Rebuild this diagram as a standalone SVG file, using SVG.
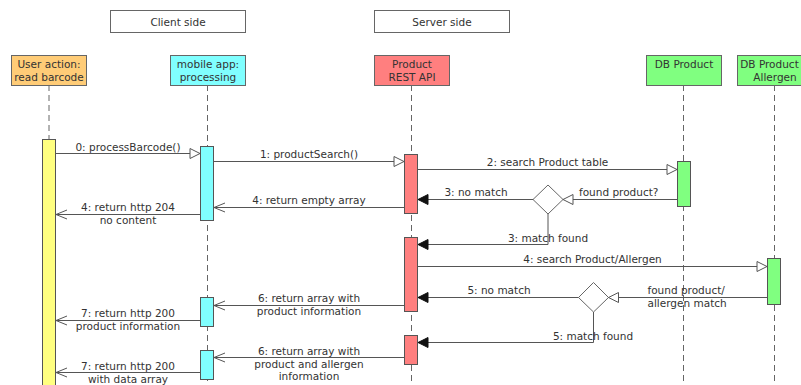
<svg xmlns="http://www.w3.org/2000/svg" width="801" height="385" viewBox="0 0 801 385">
<defs>
<style>
text{font-family:"DejaVu Sans","Liberation Sans",sans-serif;font-size:10.5px;fill:#333}
.m{text-anchor:middle}
.box{stroke:#666;stroke-width:1}
.life{stroke:#666;stroke-width:1;stroke-dasharray:6,4;fill:none}
.act{stroke:#555;stroke-width:1}
.msg{stroke:#555;stroke-width:1;fill:none}
.dec{fill:#fff;stroke:#666;stroke-width:1}
</style>
<marker id="open" markerUnits="userSpaceOnUse" markerWidth="12" markerHeight="12" refX="10" refY="5" orient="auto" overflow="visible"><path d="M0,0 L10,5 L0,10 Z" fill="#fff" stroke="#555"/></marker>
<marker id="fill" markerUnits="userSpaceOnUse" markerWidth="12" markerHeight="12" refX="10" refY="5" orient="auto" overflow="visible"><path d="M0,0 L10,5 L0,10 Z" fill="#111" stroke="#111"/></marker>
<marker id="vee" markerUnits="userSpaceOnUse" markerWidth="12" markerHeight="12" refX="11" refY="4.5" orient="auto" overflow="visible"><path d="M0,0 L11,4.5 L0,9" fill="none" stroke="#555"/></marker>
</defs>
<rect width="801" height="385" fill="#fff"/>

<g id="header-client"><rect x="110.5" y="10.5" width="135" height="22" fill="#fff" class="box"/><text x="178" y="25.5" class="m">Client side</text></g>
<g id="header-server"><rect x="374.5" y="10.5" width="135" height="22" fill="#fff" class="box"/><text x="442" y="25.5" class="m">Server side</text></g>

<g id="lifelines">
<line x1="49" y1="85" x2="49" y2="385" class="life"/>
<line x1="207.5" y1="85" x2="207.5" y2="385" class="life"/>
<line x1="411.5" y1="85" x2="411.5" y2="385" class="life"/>
<line x1="683.5" y1="85" x2="683.5" y2="385" class="life"/>
<line x1="774.5" y1="85" x2="774.5" y2="385" class="life"/>
</g>

<g id="user"><rect x="11.5" y="55.5" width="75" height="30" fill="#FFCC77" class="box"/><text x="49" y="67.5" class="m">User action:</text><text x="49" y="81" class="m">read barcode</text></g>
<g id="mobile"><rect x="170.5" y="55.5" width="75" height="30" fill="#80FFFF" class="box"/><text x="208" y="67.5" class="m">mobile app:</text><text x="208" y="81" class="m">processing</text></g>
<g id="api"><rect x="374.5" y="55.5" width="75" height="30" fill="#FF7F7F" class="box"/><text x="412" y="67.5" class="m">Product</text><text x="412" y="81" class="m">REST API</text></g>
<g id="dbproduct"><rect x="646.5" y="55.5" width="75" height="30" fill="#80FF80" class="box"/><text x="684" y="67.5" class="m">DB Product</text></g>
<g id="dballergen"><rect x="737.5" y="55.5" width="75" height="30" fill="#80FF80" class="box"/><text x="769.5" y="67.5" class="m">DB Product</text><text x="775" y="81" class="m">Allergen</text></g>

<g id="activations">
<rect x="42.5" y="139.5" width="13" height="250" fill="#FFFF80" class="act"/>
<rect x="200.5" y="146.5" width="13" height="74" fill="#80FFFF" class="act"/>
<rect x="200.5" y="297.5" width="13" height="29" fill="#80FFFF" class="act"/>
<rect x="200.5" y="350.5" width="13" height="29" fill="#80FFFF" class="act"/>
<rect x="404.5" y="154.5" width="13" height="59" fill="#FF7F7F" class="act"/>
<rect x="404.5" y="237.5" width="13" height="74" fill="#FF7F7F" class="act"/>
<rect x="404.5" y="335.5" width="13" height="29" fill="#FF7F7F" class="act"/>
<rect x="677.5" y="161.5" width="13" height="45" fill="#80FF80" class="act"/>
<rect x="767.5" y="258.5" width="13" height="46" fill="#80FF80" class="act"/>
</g>

<g id="decision1"><polygon points="533,199.5 548,185 563,199.5 548,214" class="dec"/></g>
<g id="decision2"><polygon points="578.5,297.5 593.5,282.5 608.5,297.5 593.5,312" class="dec"/></g>

<g id="connectors">
<line x1="56" y1="153.5" x2="200" y2="153.5" class="msg" marker-end="url(#open)"/>
<line x1="214" y1="161.5" x2="404" y2="161.5" class="msg" marker-end="url(#open)"/>
<line x1="418" y1="169.5" x2="677" y2="169.5" class="msg" marker-end="url(#open)"/>
<line x1="677" y1="199.5" x2="563" y2="199.5" class="msg" marker-end="url(#open)"/>
<line x1="533" y1="199.5" x2="418" y2="199.5" class="msg" marker-end="url(#fill)"/>
<path d="M548,214 V244.5 H418" class="msg" marker-end="url(#fill)"/>
<line x1="404" y1="207.5" x2="214" y2="207.5" class="msg" marker-end="url(#vee)"/>
<line x1="200" y1="214.5" x2="56" y2="214.5" class="msg" marker-end="url(#vee)"/>
<line x1="418" y1="266.5" x2="767" y2="266.5" class="msg" marker-end="url(#open)"/>
<line x1="767" y1="297.5" x2="608.5" y2="297.5" class="msg" marker-end="url(#open)"/>
<line x1="578.5" y1="297.5" x2="418" y2="297.5" class="msg" marker-end="url(#fill)"/>
<path d="M593.5,312 V342.5 H418" class="msg" marker-end="url(#fill)"/>
<line x1="404" y1="305.5" x2="214" y2="305.5" class="msg" marker-end="url(#vee)"/>
<line x1="200" y1="320.5" x2="56" y2="320.5" class="msg" marker-end="url(#vee)"/>
<line x1="404" y1="357.5" x2="214" y2="357.5" class="msg" marker-end="url(#vee)"/>
<line x1="200" y1="372.5" x2="56" y2="372.5" class="msg" marker-end="url(#vee)"/>
</g>

<g id="labels">
<text x="128" y="150.5" class="m">0: processBarcode()</text>
<text x="309" y="158.3" class="m">1: productSearch()</text>
<text x="547.5" y="165.7" class="m">2: search Product table</text>
<text x="579" y="196">found product?</text>
<text x="476" y="196" class="m">3: no match</text>
<text x="548" y="241.7" class="m">3: match found</text>
<text x="309" y="204" class="m">4: return empty array</text>
<text x="128" y="211" class="m">4: return http 204</text>
<text x="128" y="224" class="m">no content</text>
<text x="592.5" y="263" class="m">4: search Product/Allergen</text>
<text x="647.5" y="294">found product/</text>
<text x="647.5" y="306.5">allergen match</text>
<text x="499" y="294" class="m">5: no match</text>
<text x="593" y="340" class="m">5: match found</text>
<text x="309" y="302.3" class="m">6: return array with</text>
<text x="309" y="314.5" class="m">product information</text>
<text x="128" y="317.3" class="m">7: return http 200</text>
<text x="128" y="330" class="m">product information</text>
<text x="309" y="354.7" class="m">6: return array with</text>
<text x="309" y="367.5" class="m">product and allergen</text>
<text x="309" y="380" class="m">information</text>
<text x="128" y="370" class="m">7: return http 200</text>
<text x="128" y="382.7" class="m">with data array</text>
</g>
</svg>
